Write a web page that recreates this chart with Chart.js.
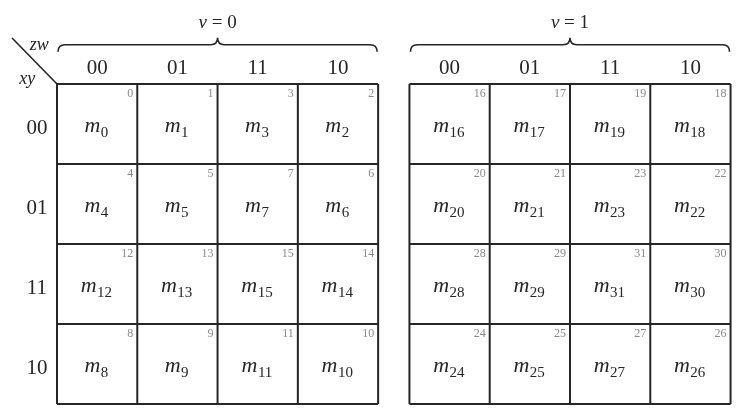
<!DOCTYPE html>
<html>
<head>
<meta charset="utf-8">
<script src="https://cdn.jsdelivr.net/npm/chart.js@4"></script>
<style>
  html, body { margin: 0; padding: 0; background: #fff; }
  canvas { display: block; }
</style>
</head>
<body>
<canvas id="kmap" width="741" height="414"></canvas>
<script>
// Karnaugh map for 5 variables v, x, y, z, w
const colLabels = ['00', '01', '11', '10'];   // zw
const rowLabels = ['00', '01', '11', '10'];   // xy
const mapVar = 'v';
const mapValues = ['0', '1'];
const rowVar = 'xy';
const colVar = 'zw';

// minterm index of each cell, per map, row by row
const mintermsV0 = [
    [0, 1, 3, 2],
    [4, 5, 7, 6],
    [12, 13, 15, 14],
    [8, 9, 11, 10]
];
const mintermsV1 = [
    [16, 17, 19, 18],
    [20, 21, 23, 22],
    [28, 29, 31, 30],
    [24, 25, 27, 26]
];
const maps = [mintermsV0, mintermsV1];

// where each map starts, in cell units
const mapOffsets = [0, 4.39];

const INK = '#262626';
const SERIF = '"Liberation Serif", "DejaVu Serif", serif';

// one point per cell, at the cell centre
const cellPoints = [];
maps.forEach((grid, m) => {
    grid.forEach((row, r) => {
        row.forEach((idx, c) => {
            cellPoints.push({ x: mapOffsets[m] + c + 0.5, y: r + 0.5, idx: idx, map: m, row: r, col: c });
        });
    });
});

function drawMinterm(ctx, cx, cy, idx) {
    const main = 'italic 22px ' + SERIF;
    const sub = '15px ' + SERIF;
    ctx.font = main;
    const wm = ctx.measureText('m').width;
    ctx.font = sub;
    const ws = ctx.measureText(String(idx)).width;
    const left = cx - (wm + ws) / 2 - 1;
    const base = cy + 8;
    ctx.textAlign = 'left';
    ctx.textBaseline = 'alphabetic';
    ctx.fillStyle = INK;
    ctx.font = main;
    ctx.fillText('m', left, base);
    ctx.font = sub;
    ctx.fillText(String(idx), left + wm + 0.5, base + 5);
}

function drawBrace(ctx, x1, x2, y) {
    const mid = (x1 + x2) / 2;
    const curl = 7;
    const tip = 7;
    ctx.beginPath();
    ctx.moveTo(x1, y + curl);
    ctx.quadraticCurveTo(x1, y, x1 + curl, y);
    ctx.lineTo(mid - tip, y);
    ctx.quadraticCurveTo(mid, y, mid, y - tip);
    ctx.quadraticCurveTo(mid, y, mid + tip, y);
    ctx.lineTo(x2 - curl, y);
    ctx.quadraticCurveTo(x2, y, x2, y + curl);
    ctx.stroke();
}

const kmapPlugin = {
    id: 'kmap',
    afterDatasetsDraw(chart) {
        const ctx = chart.ctx;
        const xs = chart.scales.x;
        const ys = chart.scales.y;
        const px = v => xs.getPixelForValue(v);
        const py = v => ys.getPixelForValue(v);
        ctx.save();

        maps.forEach((grid, m) => {
            const off = mapOffsets[m];
            const nr = grid.length, nc = grid[0].length;

            // grid lines
            ctx.strokeStyle = INK;
            ctx.lineWidth = 2;
            for (let c = 0; c <= nc; c++) {
                ctx.beginPath();
                ctx.moveTo(px(off + c), py(0));
                ctx.lineTo(px(off + c), py(nr));
                ctx.stroke();
            }
            for (let r = 0; r <= nr; r++) {
                ctx.beginPath();
                ctx.moveTo(px(off), py(r));
                ctx.lineTo(px(off + nc), py(r));
                ctx.stroke();
            }

            // column labels
            ctx.fillStyle = INK;
            ctx.font = '21px ' + SERIF;
            ctx.textAlign = 'center';
            ctx.textBaseline = 'middle';
            colLabels.forEach((lab, c) => {
                ctx.fillText(lab, px(off + c + 0.5), py(-0.19));
            });

            // brace and map title
            ctx.lineWidth = 1.6;
            drawBrace(ctx, px(off) + 1, px(off + nc) - 1, py(-0.49));
            ctx.font = 'italic 19px ' + SERIF;
            const t1 = mapVar, t2 = ' = ' + mapValues[m];
            const w1 = ctx.measureText(t1).width;
            ctx.font = '19px ' + SERIF;
            const w2 = ctx.measureText(t2).width;
            const tx = px(off + nc / 2) - (w1 + w2) / 2;
            ctx.textAlign = 'left';
            ctx.font = 'italic 19px ' + SERIF;
            ctx.fillText(t1, tx, py(-0.76));
            ctx.font = '19px ' + SERIF;
            ctx.fillText(t2, tx + w1, py(-0.76));
        });

        // row labels
        ctx.font = '21px ' + SERIF;
        ctx.textAlign = 'center';
        ctx.textBaseline = 'middle';
        rowLabels.forEach((lab, r) => {
            ctx.fillText(lab, px(-0.25), py(r + 0.55));
        });

        // corner diagonal with variable names
        ctx.lineWidth = 1.6;
        ctx.beginPath();
        ctx.moveTo(px(-0.56), py(-0.575));
        ctx.lineTo(px(0), py(0));
        ctx.stroke();
        ctx.font = 'italic 18px ' + SERIF;
        ctx.fillText(colVar, px(-0.22), py(-0.49));
        ctx.fillText(rowVar, px(-0.37), py(-0.06));

        // cell contents
        cellPoints.forEach(p => {
            drawMinterm(ctx, px(p.x), py(p.y), p.idx);
            ctx.font = '12px ' + SERIF;
            ctx.fillStyle = '#8a8a8a';
            ctx.textAlign = 'right';
            ctx.textBaseline = 'top';
            ctx.fillText(String(p.idx), px(p.x + 0.5) - 4, py(p.y - 0.5) + 4);
        });

        ctx.restore();
    }
};

new Chart(document.getElementById('kmap'), {
    type: 'scatter',
    data: {
        datasets: [{
            data: cellPoints,
            pointRadius: 0,
            pointHoverRadius: 0
        }]
    },
    options: {
        responsive: false,
        animation: false,
        devicePixelRatio: 1,
        layout: { padding: 0 },
        scales: {
            x: { type: 'linear', min: -0.71, max: 8.52, display: false },
            y: { type: 'linear', min: -1.05, max: 4.125, reverse: true, display: false }
        },
        plugins: {
            legend: { display: false },
            tooltip: { enabled: false }
        }
    },
    plugins: [kmapPlugin]
});
</script>
</body>
</html>
